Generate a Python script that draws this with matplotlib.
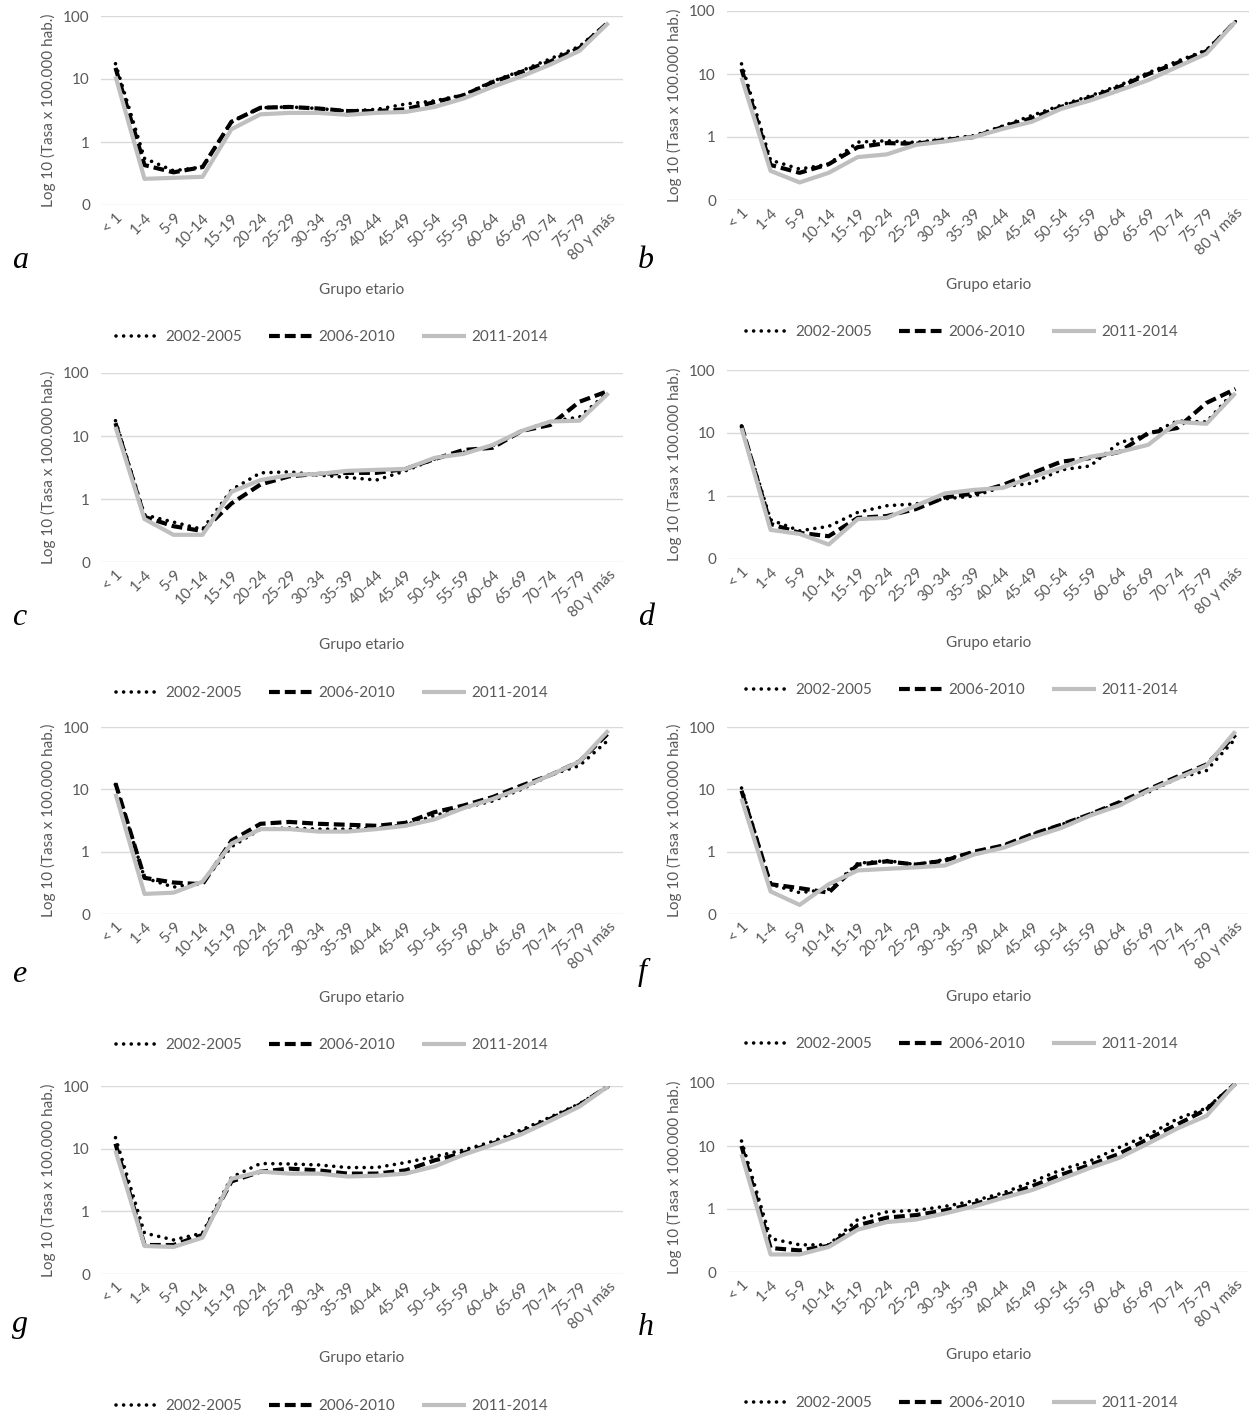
import matplotlib
matplotlib.use("Agg")
import matplotlib.pyplot as plt
from matplotlib.lines import Line2D

W, H = 1249, 1414

categories = ["< 1", "1-4", "5-9", "10-14", "15-19", "20-24", "25-29", "30-34", "35-39",
              "40-44", "45-49", "50-54", "55-59", "60-64", "65-69", "70-74", "75-79", "80 y más"]
series_names = ["2002-2005", "2006-2010", "2011-2014"]
ytick_vals = [0.1, 1, 10, 100]
ytick_labels = ["0", "1", "10", "100"]

a_p1 = [17.5, 0.55, 0.35, 0.40, 2.1, 3.5, 3.6, 3.4, 3.1, 3.3, 4.0, 4.5, 5.6, 9.2, 13.5, 21, 33, 80]
a_p2 = [15, 0.43, 0.33, 0.40, 2.1, 3.5, 3.6, 3.4, 3.1, 3.1, 3.3, 4.3, 5.5, 8.9, 13, 19, 31, 80]
a_p3 = [11, 0.26, 0.27, 0.28, 1.6, 2.75, 2.9, 2.9, 2.7, 2.9, 3.0, 3.6, 4.9, 7.5, 11, 17, 28, 78]

b_p1 = [14.5, 0.43, 0.31, 0.37, 0.83, 0.87, 0.82, 0.93, 1.05, 1.5, 2.2, 3.2, 4.5, 6.6, 10.5, 16, 24, 68]
b_p2 = [12, 0.36, 0.27, 0.37, 0.69, 0.80, 0.78, 0.90, 1.0, 1.45, 2.0, 3.0, 4.2, 6.2, 10, 15, 23, 68]
b_p3 = [8.8, 0.29, 0.19, 0.27, 0.48, 0.53, 0.75, 0.85, 1.0, 1.35, 1.75, 2.8, 3.8, 5.5, 8.0, 13, 21, 68]

c_p1 = [17.5, 0.56, 0.43, 0.33, 1.4, 2.6, 2.7, 2.4, 2.2, 2.0, 2.8, 4.3, 5.5, 7.0, 12, 17, 20, 50]
c_p2 = [16, 0.52, 0.37, 0.31, 0.85, 1.7, 2.3, 2.5, 2.6, 2.6, 3.0, 4.3, 6.0, 6.5, 12, 15, 35, 52]
c_p3 = [14, 0.48, 0.27, 0.27, 1.3, 2.0, 2.4, 2.5, 2.8, 2.9, 3.0, 4.5, 5.2, 7.2, 12, 17, 17.5, 48]

d_p1 = [13, 0.42, 0.28, 0.33, 0.55, 0.70, 0.75, 0.90, 1.0, 1.4, 1.6, 2.6, 3.0, 7.0, 9.5, 15.5, 15, 48]
d_p2 = [13, 0.36, 0.26, 0.23, 0.45, 0.48, 0.62, 0.95, 1.1, 1.5, 2.3, 3.5, 4.0, 5.0, 10, 12, 30, 50]
d_p3 = [12, 0.29, 0.25, 0.17, 0.43, 0.45, 0.70, 1.1, 1.25, 1.35, 2.0, 2.8, 4.2, 5.0, 6.5, 15, 14, 43]

e_p1 = [12, 0.38, 0.27, 0.32, 1.2, 2.3, 2.4, 2.3, 2.3, 2.4, 2.7, 3.8, 5.0, 6.5, 10, 17, 24, 62]
e_p2 = [12.5, 0.38, 0.32, 0.30, 1.5, 2.8, 3.0, 2.8, 2.7, 2.6, 2.9, 4.3, 5.5, 7.5, 11.5, 17, 28, 80]
e_p3 = [8.5, 0.21, 0.22, 0.33, 1.35, 2.3, 2.3, 2.1, 2.1, 2.3, 2.6, 3.3, 5.0, 7.0, 10.5, 17, 28, 88]

f_p1 = [10.5, 0.30, 0.22, 0.25, 0.65, 0.72, 0.62, 0.75, 1.0, 1.25, 1.9, 2.7, 4.0, 6.0, 9.0, 15, 20, 65]
f_p2 = [9.5, 0.30, 0.26, 0.22, 0.62, 0.70, 0.62, 0.72, 1.0, 1.25, 1.9, 2.7, 4.0, 6.2, 10, 16, 25, 75]
f_p3 = [7.1, 0.23, 0.14, 0.30, 0.50, 0.53, 0.56, 0.60, 0.90, 1.15, 1.7, 2.4, 3.8, 5.5, 9.5, 15, 24, 85]

g_p1 = [15, 0.45, 0.35, 0.45, 3.5, 5.8, 5.7, 5.5, 5.0, 5.0, 6.0, 7.5, 9.5, 13, 20, 32, 52, 100]
g_p2 = [12, 0.29, 0.29, 0.42, 3.0, 4.3, 4.8, 4.5, 4.0, 4.0, 4.5, 6.5, 8.5, 12, 18, 30, 50, 100]
g_p3 = [9.3, 0.28, 0.27, 0.38, 3.3, 4.3, 4.0, 4.0, 3.6, 3.7, 4.0, 5.2, 8.0, 11.5, 17, 28, 47, 100]

h_p1 = [12, 0.34, 0.27, 0.27, 0.68, 0.90, 0.95, 1.1, 1.35, 1.8, 2.7, 4.2, 5.8, 9.5, 15, 27, 40, 98]
h_p2 = [10, 0.24, 0.22, 0.26, 0.55, 0.73, 0.80, 0.95, 1.2, 1.6, 2.3, 3.5, 5.0, 7.5, 13, 22, 38, 98]
h_p3 = [7.4, 0.19, 0.19, 0.25, 0.47, 0.62, 0.68, 0.85, 1.1, 1.5, 2.0, 3.0, 4.5, 6.5, 11, 19, 30, 98]

panel_letters = ["a", "b", "c", "d", "e", "f", "g", "h"]
panel_series = [(a_p1, a_p2, a_p3), (b_p1, b_p2, b_p3), (c_p1, c_p2, c_p3), (d_p1, d_p2, d_p3),
                (e_p1, e_p2, e_p3), (f_p1, f_p2, f_p3), (g_p1, g_p2, g_p3), (h_p1, h_p2, h_p3)]

# layout in pixels
left_x = (101, 623)
right_x = (727, 1250)
rows_y = [((16, 205), (11, 200)), ((373, 562), (370, 559)),
          ((727, 914), (727, 914)), ((1086, 1274), (1083, 1272))]
letter_base = [(268, 268), (625, 625), (982, 980), (1332, 1335)]
xlabel_y = [(290, 285), (645, 643), (998, 997), (1358, 1355)]
legend_y = [(337, 332), (693, 690), (1045, 1044), (1406, 1403)]
legend_cx = (332, 962)
letter_x = (12, 638)
ylabel_x = (48, 674)

plt.rcParams['font.family'] = ['Lato', 'DejaVu Sans']
TXT = '#595959'
GRID = '#D9D9D9'
GRAY = '#BFBFBF'
FS = 11

fig = plt.figure(figsize=(W / 100, H / 100), dpi=100)

def fx(p):
    return p / W

def fy(p):
    return 1 - p / H

styles = [
    dict(color='black', lw=2.6, linestyle=(0, (0.01, 2.1)), dash_capstyle='round', solid_capstyle='round'),
    dict(color='black', lw=3.0, linestyle=(0, (2.6, 1.2)), dash_capstyle='butt'),
    dict(color=GRAY, lw=3.0, linestyle='-', solid_capstyle='butt', solid_joinstyle='round'),
]

xs = list(range(len(categories)))
for i, (letter, sers) in enumerate(zip(panel_letters, panel_series)):
    r, c = divmod(i, 2)
    x0, x1 = (left_x, right_x)[c]
    ytop, ybot = rows_y[r][c]
    ax = fig.add_axes([fx(x0), fy(ybot), fx(x1) - fx(x0), (ybot - ytop) / H])
    ax.set_yscale('log')
    ax.set_ylim(0.1, 100)
    ax.set_xlim(-0.5, len(categories) - 0.5)
    for s, st in zip(sers, styles):
        ax.plot(xs, s, **st)
    ax.set_yticks(ytick_vals)
    ax.set_yticklabels(ytick_labels)
    ax.yaxis.set_minor_locator(matplotlib.ticker.NullLocator())
    ax.set_xticks(xs)
    ax.set_xticklabels(categories, rotation=45, ha='right', rotation_mode='anchor')
    ax.tick_params(axis='both', length=0, labelsize=FS, labelcolor=TXT)
    ax.tick_params(axis='y', pad=8)
    ax.tick_params(axis='x', pad=4)
    ax.grid(axis='y', color=GRID, lw=1.0)
    ax.set_axisbelow(True)
    for sp in ax.spines.values():
        sp.set_visible(False)
    fig.text(fx(ylabel_x[c]), fy((ytop + ybot) / 2), "Log 10 (Tasa x 100.000 hab.)",
             rotation=90, ha='center', va='center', fontsize=FS, color=TXT)
    fig.text(fx((x0 + x1) / 2), fy(xlabel_y[r][c]), "Grupo etario",
             ha='center', va='center', fontsize=FS, color=TXT)
    fig.text(fx(letter_x[c]), fy(letter_base[r][c]), letter, ha='left', va='baseline',
             fontsize=23, family='Liberation Serif', style='italic', color='black')
    handles = [Line2D([0], [0], **st) for st in styles]
    fig.legend(handles, series_names, loc='center', ncol=3, frameon=False,
               bbox_to_anchor=(fx(legend_cx[c]), fy(legend_y[r][c])),
               fontsize=FS, labelcolor=TXT, handlelength=2.9, handletextpad=0.35,
               columnspacing=1.75, borderaxespad=0, borderpad=0)

fig.savefig("out.png", dpi=100)
